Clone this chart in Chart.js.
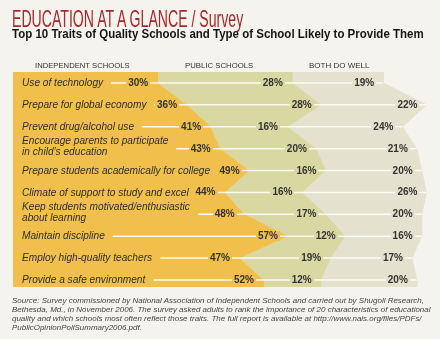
<!DOCTYPE html>
<html><head><meta charset="utf-8">
<script src="https://cdn.jsdelivr.net/npm/chart.js@4/dist/chart.umd.min.js"></script>
<style>
html,body{margin:0;padding:0;background:#f4f3ee;}
#wrap{position:relative;width:440px;height:339px;overflow:hidden;background:#f4f3ee;font-family:"Liberation Sans",Arial,sans-serif;}
#c{position:absolute;left:0;top:0;}
.t{position:absolute;white-space:nowrap;transform-origin:0 0;line-height:1;}
</style></head><body>
<div id="wrap">
<canvas id="c" width="440" height="339"></canvas>
</div>
<script>
// ---- data ----
const traits = [
  ["Use of technology"],
  ["Prepare for global economy"],
  ["Prevent drug/alcohol use"],
  ["Encourage parents to participate", "in child\u2019s education"],
  ["Prepare students academically for college"],
  ["Climate of support to study and excel"],
  ["Keep students motivated/enthusiastic", "about learning"],
  ["Maintain discipline"],
  ["Employ high-quality teachers"],
  ["Provide a safe environment"]
];
const seriesNames = ["INDEPENDENT SCHOOLS", "PUBLIC SCHOOLS", "BOTH DO WELL"];
const independentSchools = [30, 36, 41, 43, 49, 44, 48, 57, 47, 52];
const publicSchools = [28, 28, 16, 20, 16, 16, 17, 12, 19, 12];
const bothDoWell = [19, 22, 24, 21, 20, 26, 20, 16, 17, 20];

const titleText = "EDUCATION AT A GLANCE / Survey";
const subtitleText = "Top 10 Traits of Quality Schools and Type of School Likely to Provide Them";
const sourceLines = [
  "Source: Survey commissioned by National Association of Independent Schools and carried out by Shugoll Research,",
  "Bethesda, Md.,  in November 2006. The survey asked adults to rank the importance of 20 characteristics of educational",
  "quality and which schools most often reflect those traits. The full report is available at http://www.nais.org/files/PDFs/",
  "PublicOpinionPollSummary2006.pdf."
];

// ---- styling / layout ----
const colors = ['#f1c04c', '#d9d8a2', '#e4e1ce'];
const yTop = -0.5, yBottom = 9.32;
const wrap = document.getElementById('wrap');

function mk(txt, css) {
  const d = document.createElement('div');
  d.className = 't';
  d.textContent = txt;
  Object.assign(d.style, css);
  wrap.appendChild(d);
  return d;
}
function fit(el, w) {
  const k = w / el.offsetWidth;
  el.style.transform = 'scaleX(' + k + ')';
  return k;
}

// headings
fit(mk(titleText, {left:'12px', top:'7px', fontSize:'24px', color:'#a8292b'}), 231);
fit(mk(subtitleText, {left:'12px', top:'28px', fontSize:'12px', fontWeight:'bold', color:'#151515'}), 412);
const hdrX = [35, 185, 309], hdrW = [95, 68, 60];
seriesNames.forEach((s, i) => fit(mk(s, {left:hdrX[i]+'px', top:'62px', fontSize:'8px', color:'#333'}), hdrW[i]));

// source
const srcTops = [296.5, 305.7, 315, 324.2];
const srcEls = sourceLines.map((s, i) => mk(s, {left:'12px', top:srcTops[i]+'px', fontSize:'7.6px', fontStyle:'italic', color:'#444'}));
const srcK = 418 / srcEls[1].offsetWidth;
srcEls.forEach(e => e.style.transform = 'scaleX(' + srcK + ')');

// row labels (created now, positioned after chart layout)
const labelFont = 11.5;
const rowEls = traits.map(lines => lines.map(l => mk(l, {left:'22px', top:'0px', fontSize:labelFont+'px', fontStyle:'italic', color:'#2e2e2e'})));
// condense factor: least squares against measured label widths in the reference layout
const widthTargets = [[0,0,79],[3,0,145],[4,0,196],[5,0,165],[6,0,165],[7,0,83],[9,0,121]];
let sNum = 0, sDen = 0;
widthTargets.forEach(([r, l, t]) => { const w = rowEls[r][l].offsetWidth; sNum += w * t; sDen += w * w; });
const labelK = sNum / sDen;
rowEls.forEach(arr => arr.forEach(e => e.style.transform = 'scaleX(' + labelK + ')'));
const rowEnd = rowEls.map(arr => 22 + Math.max(...arr.map(e => e.offsetWidth)) * labelK);

// cumulative stack
const series = [independentSchools, publicSchools, bothDoWell];
const cum = [];
series.forEach((s, k) => cum.push(s.map((v, i) => v + (k ? cum[k-1][i] : 0))));

const pctEls = series.map((s, k) => s.map(v => mk(v + '%', {left:'0px', top:'0px', fontSize:'10px', fontWeight:'bold', color:'#333', background:colors[k], padding:'0 2px'})));

const datasets = cum.map((c, k) => ({
  label: seriesNames[k],
  data: [{x:c[0], y:yTop}].concat(c.map((x, i) => ({x, y:i}))).concat([{x:c[c.length-1], y:yBottom}]),
  backgroundColor: colors[k],
  borderColor: colors[k],
  borderWidth: 1,
  pointRadius: 0,
  tension: 0,
  fill: k === 0 ? 'origin' : '-1'
}));

const overlay = {
  id: 'overlay',
  afterDatasetsDraw(chart) {
    const {ctx} = chart;
    const xs = chart.scales.x, ys = chart.scales.y;
    ctx.save();
    ctx.strokeStyle = 'rgba(255,253,244,0.95)';
    ctx.lineWidth = 1.5;
    traits.forEach((t, i) => {
      const y = ys.getPixelForValue(i);
      const x0 = rowEnd[i] + 8;
      const x1 = xs.getPixelForValue(cum[2][i]);
      ctx.beginPath();
      ctx.moveTo(x0, y);
      ctx.lineTo(x1, y);
      ctx.stroke();
      const els = rowEls[i];
      if (els.length === 1) {
        els[0].style.top = (y - labelFont / 2) + 'px';
      } else {
        els[0].style.top = (y - 8 - labelFont / 2) + 'px';
        els[1].style.top = (y + 3 - labelFont / 2) + 'px';
      }
      series.forEach((s, k) => {
        const el = pctEls[k][i];
        const bx = xs.getPixelForValue(cum[k][i]);
        el.style.left = (bx - 7 - el.offsetWidth) + 'px';
        el.style.top = (y - 5) + 'px';
      });
    });
    ctx.restore();
  }
};

new Chart(document.getElementById('c'), {
  type: 'line',
  data: {datasets},
  options: {
    indexAxis: 'y',
    responsive: false,
    animation: false,
    layout: {padding: {left: 13, top: 72, right: 4, bottom: 52}},
    scales: {
      x: {type: 'linear', min: 0, max: 88, display: false},
      y: {type: 'linear', min: yTop, max: yBottom, reverse: true, display: false}
    },
    plugins: {legend: {display: false}, tooltip: {enabled: false}}
  },
  plugins: [overlay]
});
</script>
</body></html>
